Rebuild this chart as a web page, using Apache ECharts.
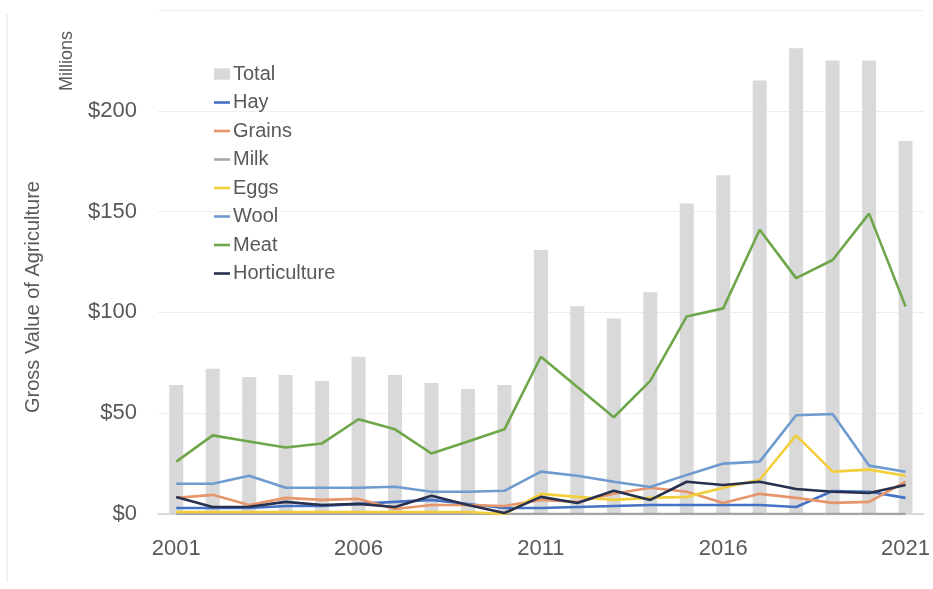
<!DOCTYPE html>
<html>
<head>
<meta charset="utf-8">
<script src="https://cdn.jsdelivr.net/npm/echarts@6/dist/echarts.min.js"></script>
<style>
html,body{margin:0;padding:0;background:#fff;}
#c{width:933px;height:589px;}
</style>
</head>
<body>
<div id="c"></div>
<script>
var years = ['2001','2002','2003','2004','2005','2006','2007','2008','2009','2010','2011','2012','2013','2014','2015','2016','2017','2018','2019','2020','2021'];
var total = [64,72,68,69,66,78,69,65,62,64,131,103,97,110,154,168,215,231,225,225,185];
var hay = [3,3,3,4,4,5,6,7,5,3,3,3.5,4,4.5,4.5,4.5,4.5,3.5,11.4,11,8];
var grains = [8,9.5,4.5,8,7,7.5,2.5,4.5,4.5,4,7,6,10,13,11,5.5,10,8,5.5,6,16];
var milk = [0,0,0,0,0,0,0,0,0,0,0,0,0,0,0,0,0,0,0,0,0];
var eggs = [1,1,1,1,1,1,1,1,1,0,10,8.5,7,8,8.5,13,17,39,21,22,19];
var wool = [15,15,19,13,13,13,13.5,11,11,11.5,21,19,16,13.4,19.4,25,26,49,49.6,24,21];
var meat = [26,39,36,33,35,47,42,30,36,42,78,63,48,66,98,102,141,117,126,149,103];
var horticulture = [8.4,3.5,3.6,6,4.5,5,3.5,9,4.5,0.5,8.5,5.5,11.5,7,16,14.4,16,12.4,11,10.4,14.4];
var yTicks = [0,50,100,150,200];

var chart = echarts.init(document.getElementById('c'), null, {renderer:'canvas'});
var FONT = '"Liberation Sans", Arial, sans-serif';
var TXT = '#595959';
var lineIcon = 'path://M0,0H16V2.6H0Z';
function lineSeries(name, data, color){
  return {name:name, type:'line', data:data, symbol:'none', smooth:false,
    lineStyle:{color:color, width:2.6}, itemStyle:{color:color}, z:3};
}
chart.setOption({
  animation:false,
  backgroundColor:'#fff',
  grid:{left:158, right:9, top:10, bottom:75, containLabel:false},
  legend:{
    orient:'vertical', left:209, top:59, itemGap:8.5, itemWidth:16, itemHeight:14,
    textStyle:{color:TXT, fontSize:20, fontFamily:FONT, lineHeight:20, padding:[0,0,0,-2]},
    symbolKeepAspect:true,
    data:[
      {name:'Total', icon:'path://M0,0H14V10H0Z'},
      {name:'Hay', icon:lineIcon},
      {name:'Grains', icon:lineIcon},
      {name:'Milk', icon:lineIcon},
      {name:'Eggs', icon:lineIcon},
      {name:'Wool', icon:lineIcon},
      {name:'Meat', icon:lineIcon},
      {name:'Horticulture', icon:lineIcon}
    ]
  },
  xAxis:{
    type:'category', data:years, boundaryGap:true,
    axisLine:{lineStyle:{color:'#d0d0d0', width:1.5}},
    axisTick:{show:false},
    axisLabel:{interval:4, color:TXT, fontSize:22, fontFamily:FONT, margin:24}
  },
  yAxis:{
    type:'value', min:0, max:250, interval:50,
    axisLine:{show:false}, axisTick:{show:false},
    splitLine:{lineStyle:{color:'#ededed', width:1}},
    axisLabel:{color:TXT, fontSize:22, fontFamily:FONT, margin:21,
      formatter:function(v){ return yTicks.indexOf(v) >= 0 ? '$' + v : ''; }}
  },
  graphic:[
    {type:'line', shape:{x1:7,y1:14,x2:7,y2:582}, style:{stroke:'#e6e6e6', lineWidth:1}},
    {type:'text', x:67, y:61, rotation:Math.PI/2,
      style:{text:'Millions', fill:TXT, font:'18px ' + FONT, align:'center', verticalAlign:'middle'}},
    {type:'text', x:33, y:297, rotation:Math.PI/2,
      style:{text:'Gross Value of Agriculture', fill:TXT, font:'20px ' + FONT, align:'center', verticalAlign:'middle'}}
  ],
  series:[
    {name:'Total', type:'bar', data:total, barWidth:14, itemStyle:{color:'#d9d9d9'}, z:1},
    lineSeries('Hay', hay, '#4472c4'),
    lineSeries('Grains', grains, '#e7956a'),
    lineSeries('Milk', milk, '#a5a5a5'),
    lineSeries('Eggs', eggs, '#f2cf3a'),
    lineSeries('Wool', wool, '#6f9bcf'),
    lineSeries('Meat', meat, '#6ea64a'),
    lineSeries('Horticulture', horticulture, '#27304f')
  ]
});
</script>
</body>
</html>
